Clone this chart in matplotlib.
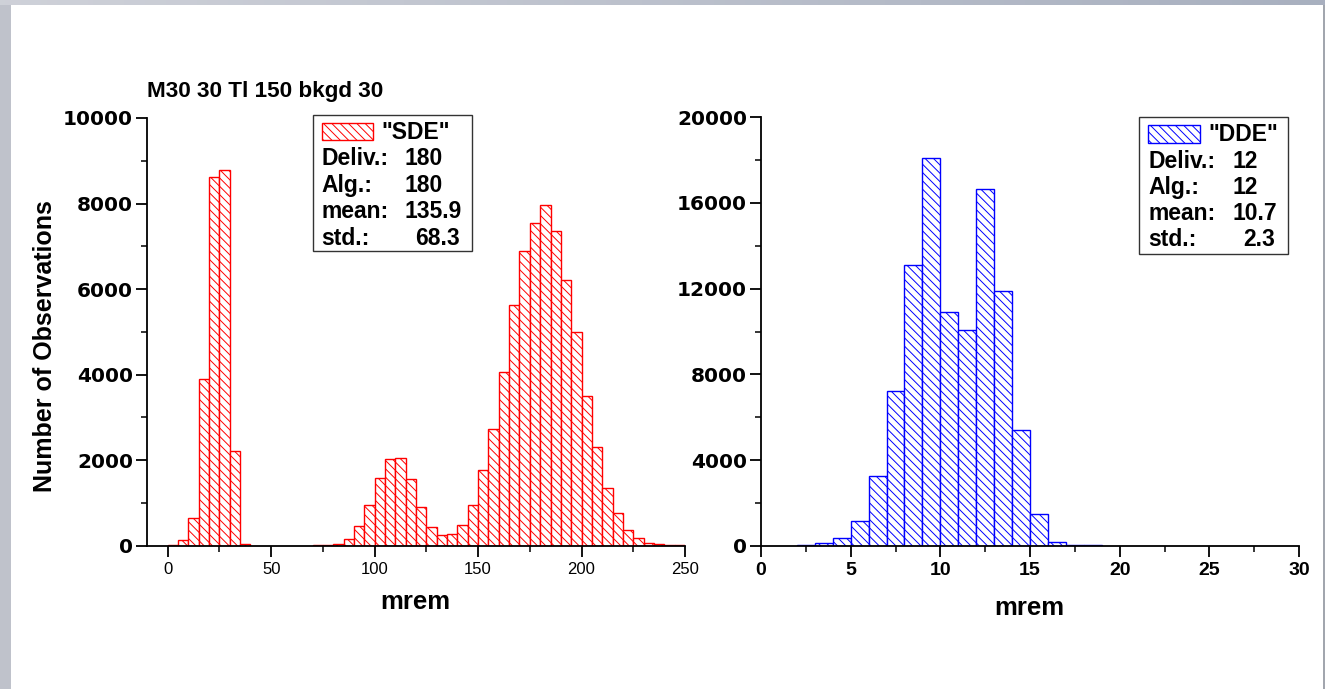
import numpy as np
import matplotlib
matplotlib.use("Agg")
import matplotlib.pyplot as plt
from matplotlib.patches import Rectangle

W, H = 1325, 689

# ---------------- data ----------------
sde_bin_width = 5
sde_bin_start = np.arange(0, 250, sde_bin_width)
sde_counts = [10, 125, 655, 3890, 8625, 8780, 2220, 40,
              0, 0, 0, 0, 0, 0,
              5, 15, 45, 155, 460, 950, 1575, 2020, 2045, 1550,
              905, 430, 250, 265, 475, 960, 1765, 2720, 4050, 5630,
              6895, 7535, 7970, 7350, 6210, 5000, 3510, 2315, 1355, 755,
              360, 185, 70, 40, 15, 10]

dde_bin_width = 1
dde_bin_start = np.arange(0, 30, dde_bin_width)
dde_counts = [0, 0, 15, 110, 340, 1165, 3235, 7205, 13105, 18085,
              10910, 10055, 16670, 11905, 5410, 1480, 185, 20, 10, 0,
              0, 0, 0, 0, 0, 0, 0, 0, 0, 0]

sde_yticks = [0, 2000, 4000, 6000, 8000, 10000]
sde_xticks = [0, 50, 100, 150, 200, 250]
dde_yticks = [0, 4000, 8000, 12000, 16000, 20000]
dde_xticks = [0, 5, 10, 15, 20, 25, 30]

title_text = "M30 30 Tl 150 bkgd 30"
ylabel_text = "Number of Observations"
xlabel_text = "mrem"

sde_legend_title = '"SDE"'
sde_legend_rows = [("Deliv.:", "180"), ("Alg.:", "180"), ("mean:", "135.9"), ("std.:", "68.3")]
dde_legend_title = '"DDE"'
dde_legend_rows = [("Deliv.:", "12"), ("Alg.:", "12"), ("mean:", "10.7"), ("std.:", "2.3")]

# ---------------- style ----------------
plt.rcParams["hatch.linewidth"] = 0.7
BOLD = dict(family="Liberation Sans", weight="bold")
HATCH = "\\\\\\\\"

fig = plt.figure(figsize=(W / 100, H / 100), dpi=100, facecolor="white")


def fx(x):
    return x / W


def fy(y):
    return 1 - y / H


# frame decoration (slide border)
fig.add_artist(Rectangle((0, 0), 11 / W, 1, transform=fig.transFigure,
                         facecolor="#bfc2cb", edgecolor="none", zorder=0))
fig.add_artist(Rectangle((1323 / W, 0), 2 / W, 1, transform=fig.transFigure,
                         facecolor="#a2a6ae", edgecolor="none", zorder=0))
gax = fig.add_axes([0, fy(5), 1, 5 / H])
grad = np.linspace(0, 1, 256)
c0 = np.array([0.81, 0.82, 0.85])
c1 = np.array([0.66, 0.69, 0.75])
img = c0[None, None, :] * (1 - grad[None, :, None]) + c1[None, None, :] * grad[None, :, None]
gax.imshow(img, aspect="auto", extent=[0, 1, 0, 1])
gax.set_axis_off()


def style_axes(ax, major_len=8, minor_len=4.5):
    for s in ("top", "right"):
        ax.spines[s].set_visible(False)
    for s in ("left", "bottom"):
        ax.spines[s].set_linewidth(1.3)
    ax.tick_params(which="major", direction="out", length=major_len, width=1.3, color="black")
    ax.tick_params(which="minor", direction="out", length=minor_len, width=1.1, color="black")
    ax.set_facecolor("none")


def draw_hist(ax, starts, counts, width, color):
    starts = np.asarray(starts)
    counts = np.asarray(counts)
    m = counts > 0
    ax.bar(starts[m], counts[m], width=width, align="edge", color="white",
           edgecolor=color, hatch=HATCH, linewidth=1.0, zorder=2)


# ---------------- left axes (SDE) ----------------
axL = fig.add_axes([fx(147), fy(545.7), (685 - 147) / W, (545.7 - 118) / H])
draw_hist(axL, sde_bin_start, sde_counts, sde_bin_width, "#ff0000")
axL.set_xlim(-10, 250)
axL.set_ylim(0, 10000)
style_axes(axL)
axL.set_yticks(sde_yticks)
axL.set_yticklabels([str(v) for v in sde_yticks], family="DejaVu Sans", weight="bold", fontsize=14.5)
axL.set_yticks([1000, 3000, 5000, 7000, 9000], minor=True)
axL.set_xticks(sde_xticks)
axL.set_xticklabels([str(v) for v in sde_xticks], family="Liberation Sans", fontsize=12)
axL.set_xticks([25, 75, 125, 175, 225], minor=True)
axL.tick_params(axis="x", which="major", pad=3.5)
axL.tick_params(axis="y", which="major", pad=2)

# ---------------- right axes (DDE) ----------------
axR = fig.add_axes([fx(761), fy(545.7), 538 / W, (545.7 - 117.3) / H])
draw_hist(axR, dde_bin_start, dde_counts, dde_bin_width, "#0000ff")
axR.set_xlim(0, 30)
axR.set_ylim(0, 20000)
style_axes(axR)
axR.set_yticks(dde_yticks)
axR.set_yticklabels([str(v) for v in dde_yticks], family="DejaVu Sans", weight="bold", fontsize=14.5)
axR.set_yticks([2000, 6000, 10000, 14000, 18000], minor=True)
axR.set_xticks(dde_xticks)
axR.set_xticklabels([str(v) for v in dde_xticks], family="Liberation Sans", weight="bold", fontsize=14)
axR.set_xticks([2.5, 7.5, 12.5, 17.5, 22.5, 27.5], minor=True)
axR.tick_params(axis="x", which="major", pad=4)
axR.tick_params(axis="y", which="major", pad=2)

# ---------------- texts ----------------
fig.text(fx(147.3), fy(96.7), title_text, ha="left", va="baseline", fontsize=16.2, **BOLD)
fig.text(fx(51.7), fy(346.5), ylabel_text, rotation=90, rotation_mode="anchor",
         ha="center", va="baseline", fontsize=18, **BOLD)
fig.text(fx(415.6), fy(609), xlabel_text, ha="center", va="baseline", fontsize=18.5, **BOLD)
fig.text(fx(1029), fy(615), xlabel_text, ha="center", va="baseline", fontsize=18.5, **BOLD)


def draw_legend(box, patch, title_xy, title, rows, label_x, val_x, val_right, baselines, color):
    x0, y0, x1, y1 = box
    fig.add_artist(Rectangle((fx(x0), fy(y1)), (x1 - x0) / W, (y1 - y0) / H,
                             transform=fig.transFigure, facecolor="white",
                             edgecolor="#333333", linewidth=1.0, zorder=5))
    px0, py0, px1, py1 = patch
    fig.add_artist(Rectangle((fx(px0), fy(py1)), (px1 - px0) / W, (py1 - py0) / H,
                             transform=fig.transFigure, facecolor="white",
                             edgecolor=color, hatch=HATCH, linewidth=1.0, zorder=6))
    fig.text(fx(title_xy[0]), fy(title_xy[1]), title, ha="left", va="baseline",
             fontsize=16.5, zorder=7, **BOLD)
    for i, ((lab, val), yb) in enumerate(zip(rows, baselines)):
        fig.text(fx(label_x), fy(yb), lab, ha="left", va="baseline", fontsize=16.5, zorder=7, **BOLD)
        if i == len(rows) - 1:
            fig.text(fx(val_right), fy(yb), val, ha="right", va="baseline", fontsize=16.5, zorder=7, **BOLD)
        else:
            fig.text(fx(val_x), fy(yb), val, ha="left", va="baseline", fontsize=16.5, zorder=7, **BOLD)


draw_legend((313.3, 115, 472.3, 251), (321.7, 122.7, 373.3, 140), (381.7, 139.3),
            sde_legend_title, sde_legend_rows, 321.7, 405, 460,
            [165, 191.7, 218.3, 245], "#ff0000")
draw_legend((1139.3, 117.3, 1287.7, 254), (1148.3, 125, 1200, 142.7), (1208.3, 140.7),
            dde_legend_title, dde_legend_rows, 1148.3, 1232.3, 1275,
            [168.3, 194.3, 220, 246], "#0000ff")

fig.savefig("out.png", dpi=100, facecolor="white")
